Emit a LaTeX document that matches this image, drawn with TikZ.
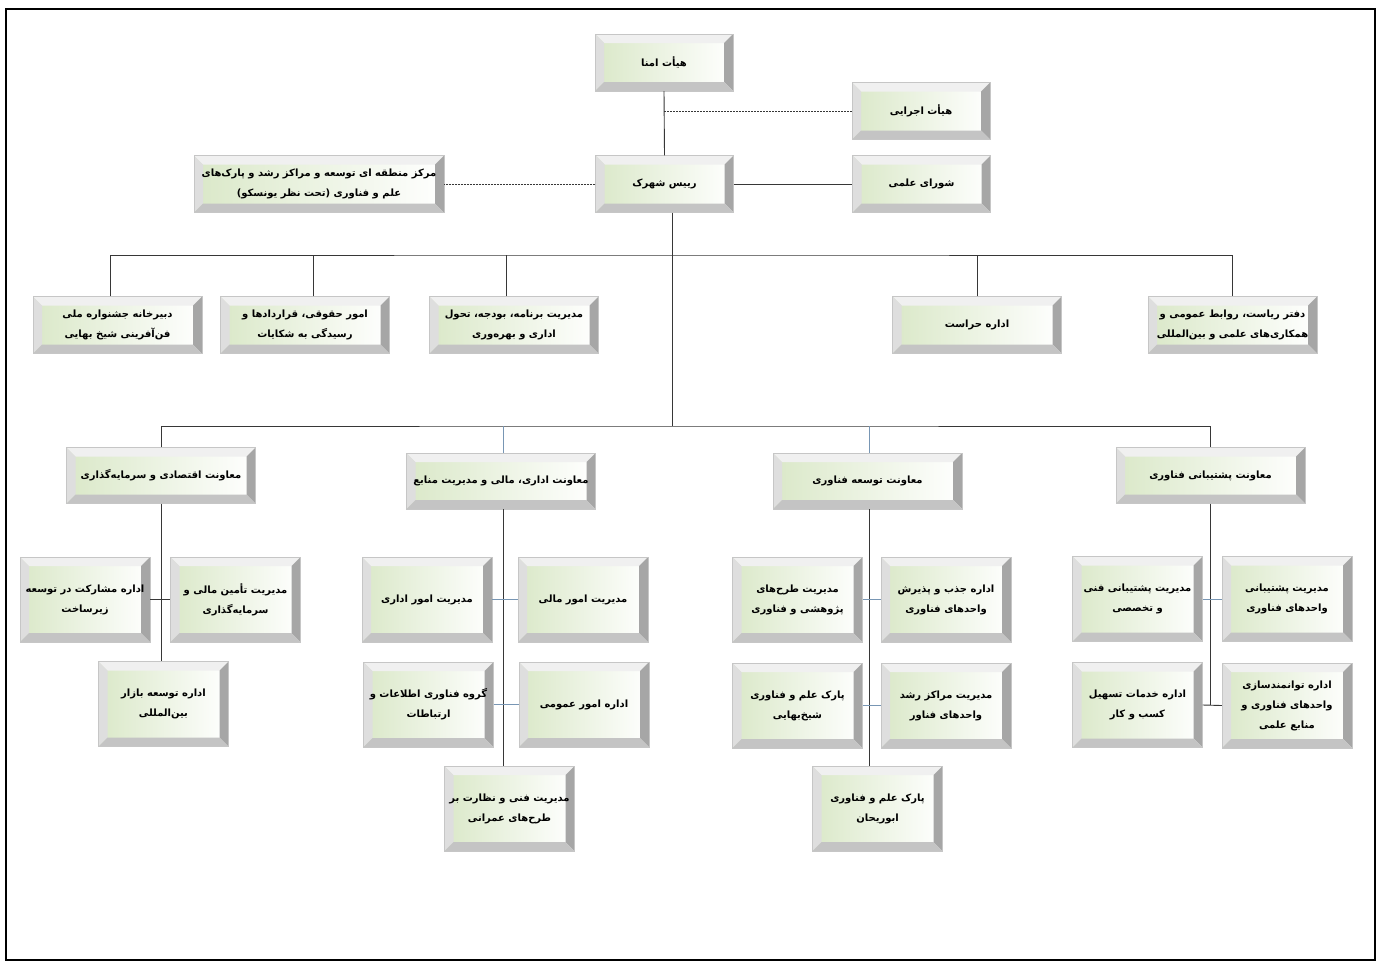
\documentclass[tikz,border=0pt]{standalone}
\usepackage{fontspec}
\newfontfamily\fafont[Script=Arabic]{DejaVu Sans}
\TeXXeTstate=1
\newcommand\fa[1]{\beginR #1\endR}
\definecolor{facegreen}{RGB}{218,232,200}
\definecolor{bvtop}{RGB}{240,240,240}
\definecolor{bvleft}{RGB}{222,222,222}
\definecolor{bvright}{RGB}{166,166,166}
\definecolor{bvbot}{RGB}{196,196,196}
\definecolor{lnblue}{RGB}{120,150,180}
\definecolor{lndark}{RGB}{55,55,55}
\tikzset{
  bev/.style={rectangle, inner sep=0pt, align=center, draw=gray!45, line width=0.4pt,
    font=\fafont\bfseries\fontsize{10}{20}\selectfont, text=black,
    left color=facegreen, right color=white,
    path picture={
      \coordinate (pNW) at (path picture bounding box.north west);
      \coordinate (pNE) at (path picture bounding box.north east);
      \coordinate (pSW) at (path picture bounding box.south west);
      \coordinate (pSE) at (path picture bounding box.south east);
      \fill[bvtop] (pNW) -- (pNE) -- ([shift={(-9pt,-9pt)}]pNE) -- ([shift={(9pt,-9pt)}]pNW) -- cycle;
      \fill[bvleft] (pNW) -- ([shift={(9pt,-9pt)}]pNW) -- ([shift={(9pt,9pt)}]pSW) -- (pSW) -- cycle;
      \fill[bvright] (pNE) -- (pSE) -- ([shift={(-9pt,9pt)}]pSE) -- ([shift={(-9pt,-9pt)}]pNE) -- cycle;
      \fill[bvbot] (pSW) -- (pSE) -- ([shift={(-9pt,9pt)}]pSE) -- ([shift={(9pt,9pt)}]pSW) -- cycle;
    }},
  topbox/.style={bev, minimum width=138pt, minimum height=57pt},
  widebox/.style={bev, minimum width=250pt, minimum height=57pt},
  rowbox/.style={bev, minimum width=169pt, minimum height=57pt},
  vpbox/.style={bev, minimum width=189pt, minimum height=56pt},
  subbox/.style={bev, minimum width=130pt, minimum height=85pt},
  conn/.style={draw=lndark, line width=0.9pt},
  connb/.style={draw=lnblue, line width=0.9pt},
  dconn/.style={draw=lndark, line width=0.8pt, dash pattern=on 2pt off 1pt},
}
\begin{document}
\begin{tikzpicture}[x=1pt,y=-1pt]
\useasboundingbox (0,0) rectangle (1382,970);
\fill[white] (0,0) rectangle (1382,970);
\draw[line width=2pt] (6,9) rectangle (1375,960);

% top
\node[topbox] (amna) at (664,62.5) {\fa{هیأت امنا}};
\node[topbox] (ejrai) at (921,111) {\fa{هیأت اجرایی}};
\node[topbox] (rais) at (664.5,184) {\fa{رییس شهرک}};
\node[topbox] (shura) at (921.5,184) {\fa{شورای علمی}};
\node[widebox] (markaz) at (319,184) {\fa{مرکز منطقه ای توسعه و مراکز رشد و پارک^^^^200cهای}\\\fa{علم و فناوری (تحت نظر یونسکو)}};

% row 2
\node[rowbox] (dabir) at (117.5,325) {\fa{دبیرخانه جشنواره ملی}\\\fa{فن^^^^200cآفرینی شیخ بهایی}};
\node[rowbox] (hoquqi) at (305,325) {\fa{امور حقوقی، قراردادها و}\\\fa{رسیدگی به شکایات}};
\node[rowbox] (barname) at (514,325) {\fa{مدیریت برنامه، بودجه، تحول}\\\fa{اداری و بهره^^^^200cوری}};
\node[rowbox] (herasat) at (977,325) {\fa{اداره حراست}};
\node[rowbox] (daftar) at (1232.5,325) {\fa{دفتر ریاست، روابط عمومی و}\\\fa{همکاری^^^^200cهای علمی و بین^^^^200cالمللی}};

% VP row
\node[vpbox] (eqt) at (161,475.5) {\fa{معاونت اقتصادی و سرمایه^^^^200cگذاری}};
\node[vpbox] (edari) at (501,481) {\fa{معاونت اداری، مالی و مدیریت منابع}};
\node[vpbox] (tosee) at (867.5,481) {\fa{معاونت توسعه فناوری}};
\node[vpbox] (posh) at (1210.5,475.5) {\fa{معاونت پشتیبانی فناوری}};

% economic
\node[subbox] (mosh) at (85,599.5) {\fa{اداره مشارکت در توسعه}\\\fa{زیرساخت}};
\node[subbox] (tamin) at (235.5,599.5) {\fa{مدیریت تأمین مالی و}\\\fa{سرمایه^^^^200cگذاری}};
\node[subbox] (bazar) at (163.5,704) {\fa{اداره توسعه بازار}\\\fa{بین^^^^200cالمللی}};

% admin
\node[subbox] (omured) at (427,599.5) {\fa{مدیریت امور اداری}};
\node[subbox] (mali) at (583,599.5) {\fa{مدیریت امور مالی}};
\node[subbox] (ict) at (428.5,704.5) {\fa{گروه فناوری اطلاعات و}\\\fa{ارتباطات}};
\node[subbox] (omumi) at (584,704.5) {\fa{اداره امور عمومی}};
\node[subbox] (fanni) at (509.5,808.5) {\fa{مدیریت فنی و نظارت بر}\\\fa{طرح^^^^200cهای عمرانی}};

% tech
\node[subbox] (tarh) at (797.5,599.5) {\fa{مدیریت طرح^^^^200cهای}\\\fa{پژوهشی و فناوری}};
\node[subbox] (jazb) at (946,599.5) {\fa{اداره جذب و پذیرش}\\\fa{واحدهای فناوری}};
\node[subbox] (sheikh) at (797.5,705.5) {\fa{پارک علم و فناوری}\\\fa{شیخ^^^^200cبهایی}};
\node[subbox] (marakez) at (946,705.5) {\fa{مدیریت مراکز رشد}\\\fa{واحدهای فناور}};
\node[subbox] (abu) at (877.5,808.5) {\fa{پارک علم و فناوری}\\\fa{ابوریحان}};

% support
\node[subbox] (poshfanni) at (1137.5,599) {\fa{مدیریت پشتیبانی فنی}\\\fa{و تخصصی}};
\node[subbox] (poshvahed) at (1287,599) {\fa{مدیریت پشتیبانی}\\\fa{واحدهای فناوری}};
\node[subbox] (khadamat) at (1137.5,705) {\fa{اداره خدمات تسهیل}\\\fa{کسب و کار}};
\node[subbox] (tavan) at (1287,705.5) {\fa{اداره توانمندسازی}\\\fa{واحدهای فناوری و}\\\fa{منابع علمی}};

% connectors
\coordinate (b1) at (672,255);
\coordinate (b2) at (672,426);
\draw[conn] (amna.south) -- (rais.north);
\draw[dconn] (ejrai.west) -- (ejrai.west -| amna.south);
\draw[dconn] (rais.west) -- (markaz.east);
\draw[conn] (rais.east) -- (shura.west);
\draw[conn] (rais.south -| b1) -- (b2);
\draw[conn] ([xshift=-7pt]dabir.north) |- (b1) -| (daftar.north);
\draw[conn] ([xshift=8pt]hoquqi.north) -- ([xshift=8pt]hoquqi.north |- b1);
\draw[conn] ([xshift=-8pt]barname.north) -- ([xshift=-8pt]barname.north |- b1);
\draw[conn] (herasat.north) -- (herasat.north |- b1);
\draw[conn] (eqt.north) |- (b2) -| (posh.north);
\draw[connb] ([xshift=2pt]edari.north) -- ([xshift=2pt]edari.north |- b2);
\draw[connb] ([xshift=2pt]tosee.north) -- ([xshift=2pt]tosee.north |- b2);

\draw[conn] (eqt.south) -- (eqt.south |- bazar.north);
\draw[conn] (mosh.east) -- (tamin.west);

\draw[conn] ([xshift=2pt]edari.south) -- ([xshift=2pt]edari.south |- fanni.north);
\draw[connb] (omured.east) -- (mali.west);
\draw[connb] (ict.east) -- (omumi.west);

\draw[conn] ([xshift=2pt]tosee.south) -- ([xshift=2pt]tosee.south |- abu.north);
\draw[connb] (tarh.east) -- (jazb.west);
\draw[connb] (sheikh.east) -- (marakez.west);

\draw[conn] (posh.south) -- (posh.south |- khadamat.east);
\draw[connb] (poshfanni.east) -- (poshvahed.west);
\draw[conn] (khadamat.east) -- (tavan.west);
\end{tikzpicture}
\end{document}
